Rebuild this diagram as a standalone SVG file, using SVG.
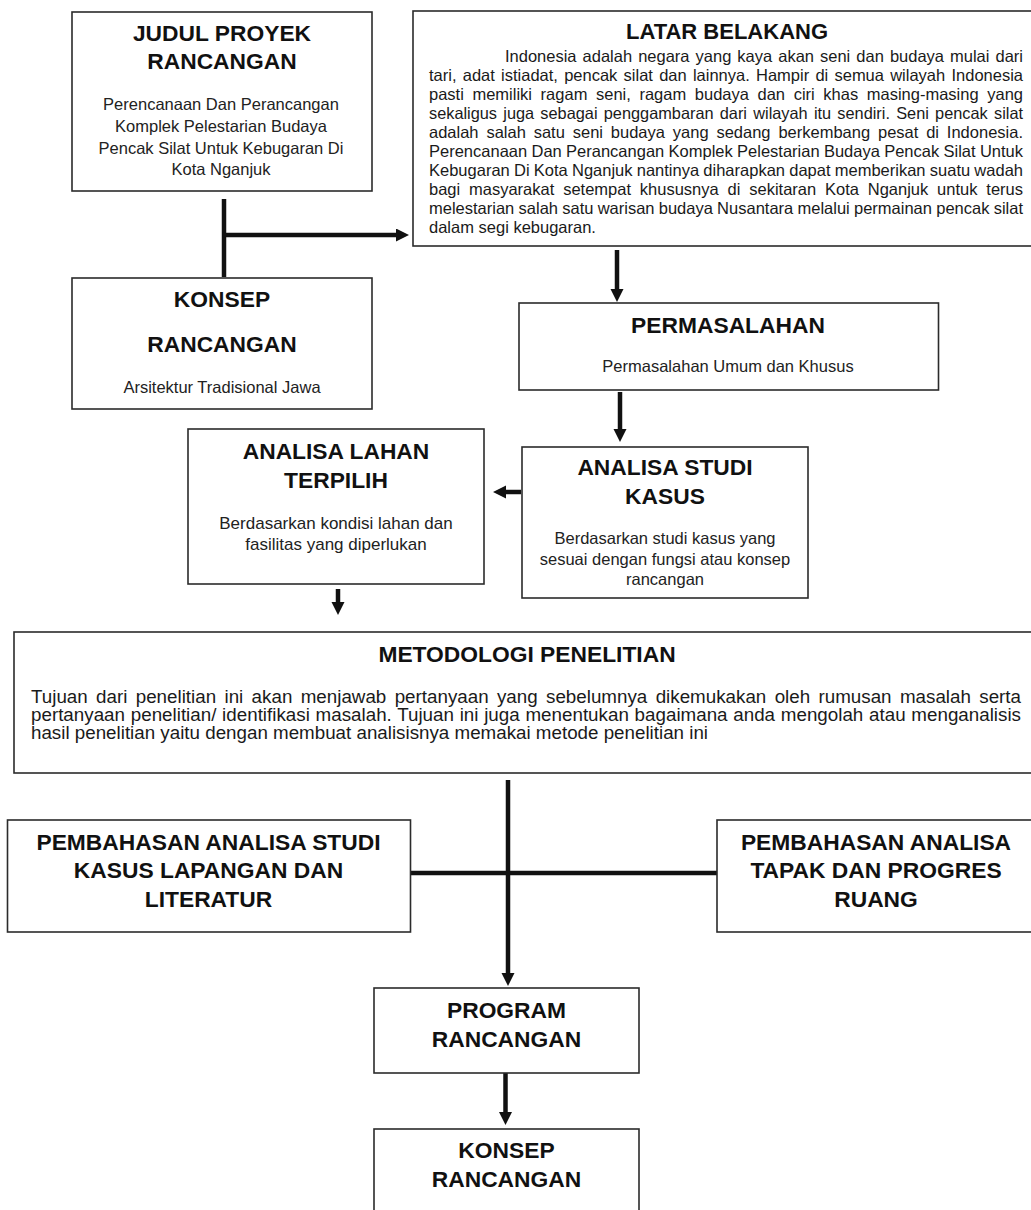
<svg xmlns="http://www.w3.org/2000/svg" width="1031" height="1210" viewBox="0 0 1031 1210">
<style>
.box{fill:#fff;stroke:#2b2b2b;stroke-width:1.6}
.t{font-family:"Liberation Sans",Arial,sans-serif;font-weight:bold;font-size:22.8px;text-anchor:middle;fill:#111}
.b{font-family:"Liberation Sans",Arial,sans-serif;font-size:16.5px;text-anchor:middle;fill:#222}
.p{font-family:"Liberation Sans",Arial,sans-serif;font-size:16.5px;fill:#1a1a1a}
.m{font-family:"Liberation Sans",Arial,sans-serif;font-size:17.5px;fill:#1a1a1a}
.c{fill:none;stroke:#111;stroke-width:4.5}
</style>
<defs>
<marker id="ah" markerUnits="userSpaceOnUse" markerWidth="14" markerHeight="14" refX="3" refY="6.5" orient="auto">
<path d="M0,0 L13,6.5 L0,13 z" fill="#111"/>
</marker>
</defs>
<rect width="1031" height="1210" fill="#fff"/>

<g id="connectors">
<path class="c" d="M224,199 V277"/>
<path class="c" d="M222,235 H399" marker-end="url(#ah)"/>
<path class="c" d="M617,250 V292" marker-end="url(#ah)"/>
<path class="c" d="M620,392 V432" marker-end="url(#ah)"/>
<path class="c" d="M521,492 H503" marker-end="url(#ah)"/>
<path class="c" d="M338,589 V605" marker-end="url(#ah)"/>
<path class="c" d="M508,780 V976" marker-end="url(#ah)"/>
<path class="c" d="M411,873 H717"/>
<path class="c" d="M505.5,1073 V1115" marker-end="url(#ah)"/>
</g>

<g id="judul">
<rect class="box" x="72" y="12" width="300" height="179"/>
<text class="t" x="222" y="41">JUDUL PROYEK</text>
<text class="t" x="222" y="69">RANCANGAN</text>
<text class="b" x="221" y="110">Perencanaan Dan Perancangan</text>
<text class="b" x="221" y="132">Komplek Pelestarian Budaya</text>
<text class="b" x="221" y="154">Pencak Silat Untuk Kebugaran Di</text>
<text class="b" x="221" y="175">Kota Nganjuk</text>
</g>

<g id="latar">
<rect class="box" x="413" y="11" width="640" height="235"/>
<text class="t" x="727" y="39" style="font-size:22px">LATAR BELAKANG</text>
<text class="p" x="505" y="62" textLength="518" lengthAdjust="spacingAndGlyphs" word-spacing="1.45">Indonesia adalah negara yang kaya akan seni dan budaya mulai dari</text>
<text class="p" x="429" y="81" textLength="594" lengthAdjust="spacingAndGlyphs" word-spacing="1.65">tari, adat istiadat, pencak silat dan lainnya. Hampir di semua wilayah Indonesia</text>
<text class="p" x="429" y="100" textLength="594" lengthAdjust="spacingAndGlyphs" word-spacing="4.02">pasti memiliki ragam seni, ragam budaya dan ciri khas masing-masing yang</text>
<text class="p" x="429" y="119" textLength="594" lengthAdjust="spacingAndGlyphs" word-spacing="1.73">sekaligus juga sebagai penggambaran dari wilayah itu sendiri. Seni pencak silat</text>
<text class="p" x="429" y="138" textLength="594" lengthAdjust="spacingAndGlyphs" word-spacing="3.27">adalah salah satu seni budaya yang sedang berkembang pesat di Indonesia.</text>
<text class="p" x="429" y="157" textLength="594" lengthAdjust="spacingAndGlyphs" word-spacing="-0.3">Perencanaan Dan Perancangan Komplek Pelestarian Budaya Pencak Silat Untuk</text>
<text class="p" x="429" y="176" textLength="594" lengthAdjust="spacingAndGlyphs" word-spacing="-0.35">Kebugaran Di Kota Nganjuk nantinya diharapkan dapat memberikan suatu wadah</text>
<text class="p" x="429" y="195" textLength="594" lengthAdjust="spacingAndGlyphs" word-spacing="4.24">bagi masyarakat setempat khususnya di sekitaran Kota Nganjuk untuk terus</text>
<text class="p" x="429" y="214" textLength="594" lengthAdjust="spacingAndGlyphs" word-spacing="-0.35">melestarian salah satu warisan budaya Nusantara melalui permainan pencak silat</text>
<text class="p" x="429" y="233">dalam segi kebugaran.</text>
</g>

<g id="konsep-atas">
<rect class="box" x="72" y="278" width="300" height="131"/>
<text class="t" x="222" y="307">KONSEP</text>
<text class="t" x="222" y="352">RANCANGAN</text>
<text class="b" x="222" y="393">Arsitektur Tradisional Jawa</text>
</g>

<g id="permasalahan">
<rect class="box" x="519" y="303" width="419.5" height="87"/>
<text class="t" x="728" y="333">PERMASALAHAN</text>
<text class="b" x="728" y="372">Permasalahan Umum dan Khusus</text>
</g>

<g id="analisa-studi">
<rect class="box" x="522" y="447" width="286" height="151"/>
<text class="t" x="665" y="475">ANALISA STUDI</text>
<text class="t" x="665" y="504">KASUS</text>
<text class="b" x="665" y="544">Berdasarkan studi kasus yang</text>
<text class="b" x="665" y="565">sesuai dengan fungsi atau konsep</text>
<text class="b" x="665" y="585">rancangan</text>
</g>

<g id="analisa-lahan">
<rect class="box" x="188" y="429" width="296" height="155"/>
<text class="t" x="336" y="459">ANALISA LAHAN</text>
<text class="t" x="336" y="488">TERPILIH</text>
<text class="b" x="336" y="529" style="font-size:17px">Berdasarkan kondisi lahan dan</text>
<text class="b" x="336" y="550" style="font-size:17px">fasilitas yang diperlukan</text>
</g>

<g id="metodologi">
<rect class="box" x="14" y="632" width="1040" height="141"/>
<text class="t" x="527" y="662">METODOLOGI PENELITIAN</text>
<text class="m" x="31" y="703" textLength="990" lengthAdjust="spacingAndGlyphs" word-spacing="2.92">Tujuan dari penelitian ini akan menjawab pertanyaan yang sebelumnya dikemukakan oleh rumusan masalah serta</text>
<text class="m" x="31" y="721" textLength="990" lengthAdjust="spacingAndGlyphs" word-spacing="0.48">pertanyaan penelitian/ identifikasi masalah. Tujuan ini juga menentukan bagaimana anda mengolah atau menganalisis</text>
<text class="m" x="31" y="739" textLength="677" lengthAdjust="spacingAndGlyphs">hasil penelitian yaitu dengan membuat analisisnya memakai metode penelitian ini</text>
</g>

<g id="pembahasan-kiri">
<rect class="box" x="7.5" y="820" width="403" height="112"/>
<text class="t" x="208.5" y="850">PEMBAHASAN ANALISA STUDI</text>
<text class="t" x="208.5" y="878">KASUS LAPANGAN DAN</text>
<text class="t" x="208.5" y="907">LITERATUR</text>
</g>

<g id="pembahasan-kanan">
<rect class="box" x="717" y="820" width="340" height="112"/>
<text class="t" x="876" y="850">PEMBAHASAN ANALISA</text>
<text class="t" x="876" y="878">TAPAK DAN PROGRES</text>
<text class="t" x="876" y="907">RUANG</text>
</g>

<g id="program">
<rect class="box" x="374" y="988" width="265" height="85"/>
<text class="t" x="506.5" y="1018">PROGRAM</text>
<text class="t" x="506.5" y="1047">RANCANGAN</text>
</g>

<g id="konsep-bawah">
<rect class="box" x="374" y="1129" width="265" height="110"/>
<text class="t" x="506.5" y="1158">KONSEP</text>
<text class="t" x="506.5" y="1187">RANCANGAN</text>
</g>
</svg>
